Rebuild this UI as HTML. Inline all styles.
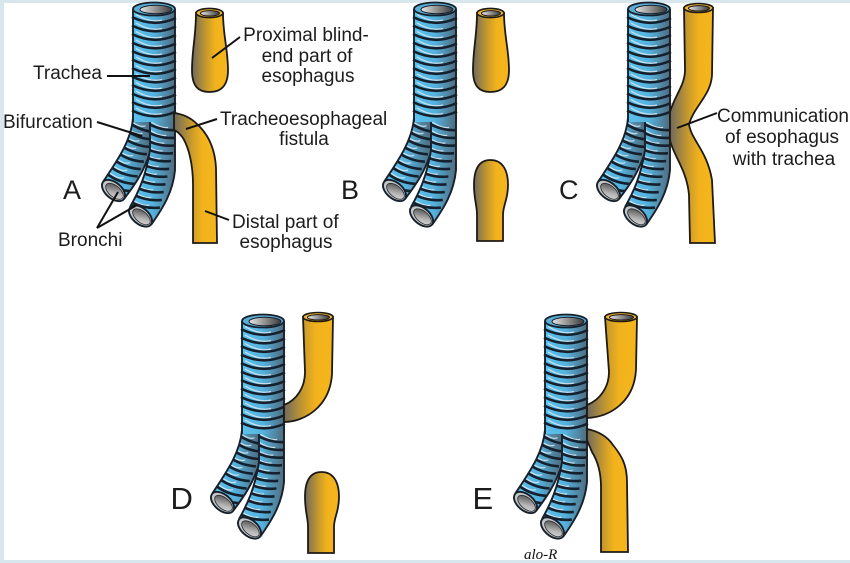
<!DOCTYPE html>
<html><head><meta charset="utf-8"><style>
html,body{margin:0;padding:0;background:#fff;}
svg{display:block;}
.t{font-family:"Liberation Sans",Arial,sans-serif;fill:#1c1c1c;}
</style></head><body>
<svg width="850" height="563" viewBox="0 0 850 563" xmlns="http://www.w3.org/2000/svg" xmlns:xlink="http://www.w3.org/1999/xlink">
<defs>
<linearGradient id="blue" x1="0" y1="0" x2="1" y2="0">
 <stop offset="0" stop-color="#5cc2ee"/>
 <stop offset="0.5" stop-color="#54b2de"/>
 <stop offset="1" stop-color="#4f6b7e"/>
</linearGradient>
<linearGradient id="gray" x1="0" y1="0" x2="1" y2="0">
 <stop offset="0" stop-color="#e6e6e6"/>
 <stop offset="1" stop-color="#3a3a3a"/>
</linearGradient>
<linearGradient id="gray2" x1="0" y1="0" x2="1" y2="1">
 <stop offset="0" stop-color="#3d3d3d"/>
 <stop offset="0.6" stop-color="#b5b5b5"/>
 <stop offset="1" stop-color="#e0e0e0"/>
</linearGradient>
<linearGradient id="gold" x1="0" y1="0" x2="1" y2="0">
 <stop offset="0" stop-color="#6f6a5e"/>
 <stop offset="0.4" stop-color="#c89a2c"/>
 <stop offset="0.65" stop-color="#f2b21c"/>
 <stop offset="1" stop-color="#f5b61c"/>
</linearGradient>
<clipPath id="cl"><path d="M133,106 L133,118 C131,142 116,162 103,182 L124,199 C134,186 144,172 150,152 L150,106 Z"/></clipPath>
<clipPath id="cr"><path d="M150,106 L150,150 C146,176 138,193 130,207 L151,225 C163,208 173,192 175,170 L175,106 Z"/></clipPath>

<g id="rl">
 <path d="M-13.5,-8 Q-1.3,3 5,0" stroke="#dde7ec" stroke-width="1.3" fill="none" opacity="0.85"/>
 <path d="M-15.7,-6.5 Q-2.3,5.5 15.7,6.5" stroke="#15202c" stroke-width="2.6" fill="none"/>
</g>
<g id="rr">
 <path d="M-14,-6 Q-1,3.3 6,1.5" stroke="#dde7ec" stroke-width="1.3" fill="none" opacity="0.85"/>
 <path d="M-16.5,-4 Q-1.4,5.8 16.5,4" stroke="#15202c" stroke-width="2.6" fill="none"/>
</g>
<g id="rt">
 <path d="M-18,-5.5 Q-4,3 8,0" stroke="#dde7ec" stroke-width="1.3" fill="none" opacity="0.85"/>
 <path d="M-22,-3 Q0,8 22,-2" stroke="#15202c" stroke-width="2.6" fill="none"/>
</g>

<g id="tr">
 <!-- left bronchus -->
 <path d="M133,106 L133,118 C131,142 116,162 103,182 L124,199 C134,186 144,172 150,152 L150,106 Z" fill="url(#blue)"/>
 <g clip-path="url(#cl)">
  <use href="#rl" x="140.5" y="125.7"/>
  <use href="#rl" x="137.4" y="133.1"/>
  <use href="#rl" x="134.3" y="140.5"/>
  <use href="#rl" x="131.2" y="147.8"/>
  <use href="#rl" x="128.2" y="155.2"/>
  <use href="#rl" x="125.1" y="162.6"/>
  <use href="#rl" x="122" y="170"/>
  <use href="#rl" x="119" y="177.4"/>
  <use href="#rl" x="115.9" y="184.8"/>
 </g>
 <path d="M133,118 C131,142 116,162 103,182 M124,199 C134,186 144,172 150,152" fill="none" stroke="#17202b" stroke-width="1.9"/>
 <ellipse cx="113.5" cy="190.5" rx="13.5" ry="8" transform="rotate(40 113.5 190.5)" fill="#c2c6c9" stroke="#17202b" stroke-width="1.9"/>
 <ellipse cx="114.5" cy="191.3" rx="10.5" ry="5.6" transform="rotate(40 114.5 191.3)" fill="url(#gray2)" stroke="#2a2a2a" stroke-width="0.8"/>
 <!-- right bronchus -->
 <path d="M150,106 L150,150 C146,176 138,193 130,207 L151,225 C163,208 173,192 175,170 L175,106 Z" fill="url(#blue)"/>
 <g clip-path="url(#cr)">
  <use href="#rr" x="162.1" y="125.9"/>
  <use href="#rr" x="160.2" y="133.7"/>
  <use href="#rr" x="158.3" y="141.4"/>
  <use href="#rr" x="156.5" y="149.2"/>
  <use href="#rr" x="154.6" y="157"/>
  <use href="#rr" x="152.7" y="164.8"/>
  <use href="#rr" x="150.9" y="172.5"/>
  <use href="#rr" x="149" y="180.3"/>
  <use href="#rr" x="147.2" y="188.1"/>
  <use href="#rr" x="145.3" y="195.9"/>
  <use href="#rr" x="143.4" y="203.6"/>
 </g>
 <path d="M150,106 L150,150 C146,176 138,193 130,207 M151,225 C163,208 173,192 175,170 L175,106" fill="none" stroke="#17202b" stroke-width="1.9"/>
 <ellipse cx="140.5" cy="216" rx="13.5" ry="8" transform="rotate(40 140.5 216)" fill="#c2c6c9" stroke="#17202b" stroke-width="1.9"/>
 <ellipse cx="141.5" cy="216.8" rx="10.5" ry="5.6" transform="rotate(40 141.5 216.8)" fill="url(#gray2)" stroke="#2a2a2a" stroke-width="0.8"/>
 <!-- trachea tube -->
 <path d="M133,9 L133,122 L175,122 L175,9 Z" fill="url(#blue)"/>
 <use href="#rt" x="154" y="20"/>
 <use href="#rt" x="154" y="28.5"/>
 <use href="#rt" x="154" y="37"/>
 <use href="#rt" x="154" y="45.5"/>
 <use href="#rt" x="154" y="54"/>
 <use href="#rt" x="154" y="62.5"/>
 <use href="#rt" x="154" y="71"/>
 <use href="#rt" x="154" y="79.5"/>
 <use href="#rt" x="154" y="88"/>
 <use href="#rt" x="154" y="96.5"/>
 <use href="#rt" x="154" y="105"/>
 <use href="#rt" x="154" y="113.5"/>
 <path d="M133,9 L133,122 M175,9 L175,122" fill="none" stroke="#17202b" stroke-width="1.9"/>
 <ellipse cx="154" cy="9" rx="21" ry="6.5" fill="#5aaed6" stroke="#17202b" stroke-width="1.8"/>
 <ellipse cx="156" cy="9.5" rx="16" ry="4.3" fill="url(#gray)" stroke="#17202b" stroke-width="1"/>
</g>

<g id="pu">
 <path d="M196,13 C196,35 192,50 192,70 C192,86 198,92 209.5,92 C221,92 228,86 228,70 C228,50 223,35 223,13 Z" fill="url(#gold)" stroke="#1e1a14" stroke-width="1.8"/>
 <ellipse cx="209.5" cy="13" rx="13.5" ry="4.6" fill="#e9b43a" stroke="#1e1a14" stroke-width="1.6"/>
 <ellipse cx="210" cy="13.3" rx="9.5" ry="2.7" fill="url(#gray)" stroke="#1e1a14" stroke-width="1"/>
</g>
<path id="pl" d="M193,185 C193,168 199,160 209.5,160 C220,160 227,168 227,185 C227,200 222,205 222,215 L222,241 L196,241 L196,215 C196,205 193,200 193,185 Z" fill="url(#gold)" stroke="#1e1a14" stroke-width="1.8"/>
<path id="fist" d="M174,113 C182,114 190,117 197,124 C208,134 215,148 216,168 L217,243 L193,243 L193,185 C193,165 189,148 183,138 C180,134 177,131 174,130 Z" fill="url(#gold)" stroke="#1e1a14" stroke-width="1.8"/>
</defs>

<!-- frame -->
<rect x="0" y="0" width="850" height="3" fill="#d8e6ee"/>
<rect x="0" y="0" width="4" height="563" fill="#d8e6ee"/>
<rect x="0" y="560" width="850" height="3" fill="#d8e6ee"/>

<!-- Panel A -->
<use href="#tr"/>
<use href="#pu"/>
<use href="#fist"/>

<!-- Panel B -->
<g transform="translate(281,0)">
 <use href="#tr"/>
 <use href="#pu"/>
 <use href="#pl"/>
</g>

<!-- Panel C -->
<g transform="translate(495,0)">
 <use href="#tr"/>
 <path d="M189,8 L218,8 L217,75 C216,95 200,105 194,124 C196,140 212,150 217,180 L220,243 L195,243 L194,195 C192,170 178,155 175,140 L175,112 C180,95 190,85 190,70 Z" fill="url(#gold)" stroke="#1e1a14" stroke-width="1.8"/>
 <ellipse cx="203.5" cy="8" rx="14.5" ry="4.5" fill="#e9b43a" stroke="#1e1a14" stroke-width="1.6"/>
 <ellipse cx="204" cy="8.3" rx="10.5" ry="2.7" fill="url(#gray)" stroke="#1e1a14" stroke-width="1"/>
</g>

<!-- Panel D -->
<g transform="translate(109,312)">
 <use href="#tr"/>
 <path d="M194,5 L224,5 L223,62 C221,95 195,110 175,110 L175,93 C188,88 196,75 196,60 Z" fill="url(#gold)" stroke="#1e1a14" stroke-width="1.8"/>
 <ellipse cx="209" cy="5" rx="15" ry="4.5" fill="#e9b43a" stroke="#1e1a14" stroke-width="1.6"/>
 <ellipse cx="209.5" cy="5.3" rx="11" ry="2.7" fill="url(#gray)" stroke="#1e1a14" stroke-width="1"/>
 <use href="#pl" x="3"/>
</g>

<!-- Panel E -->
<g transform="translate(412,312)">
 <use href="#tr"/>
 <path d="M193,5 L225,5 L224,58 C222,90 198,105 175,106 L175,93 C188,88 197,75 197,60 Z" fill="url(#gold)" stroke="#1e1a14" stroke-width="1.8"/>
 <ellipse cx="209" cy="5" rx="16" ry="4.5" fill="#e9b43a" stroke="#1e1a14" stroke-width="1.6"/>
 <ellipse cx="209.5" cy="5.3" rx="12" ry="2.7" fill="url(#gray)" stroke="#1e1a14" stroke-width="1"/>
 <path d="M175,117 C185,119 195,124 201,133 C209,143 215,152 215,170 L216,240 L189,240 L189,175 C189,160 185,148 180,140 C178,135 176,131 175,128 Z" fill="url(#gold)" stroke="#1e1a14" stroke-width="1.8"/>
</g>

<!-- leader lines -->
<g stroke="#111" stroke-width="2" fill="none">
 <line x1="212" y1="58" x2="240" y2="37"/>
 <line x1="107" y1="76" x2="150" y2="76"/>
 <line x1="97" y1="122" x2="142" y2="136"/>
 <line x1="186" y1="129" x2="217" y2="119"/>
 <line x1="205" y1="211" x2="229" y2="220"/>
 <line x1="97" y1="228" x2="118" y2="192"/>
 <line x1="97" y1="228" x2="137" y2="205"/>
 <line x1="677" y1="128" x2="717" y2="113"/>
</g>

<!-- labels -->
<g class="t" font-size="19">
 <text class="t" x="306" y="41" text-anchor="middle">Proximal blind-</text>
 <text class="t" x="307" y="62" text-anchor="middle">end part of</text>
 <text class="t" x="308" y="82" text-anchor="middle">esophagus</text>
 <text class="t" x="33" y="79">Trachea</text>
 <text class="t" x="3" y="128">Bifurcation</text>
 <text class="t" x="220" y="125">Tracheoesophageal</text>
 <text class="t" x="304" y="145" text-anchor="middle">fistula</text>
 <text class="t" x="232" y="228">Distal part of</text>
 <text class="t" x="286" y="248" text-anchor="middle">esophagus</text>
 <text class="t" x="58" y="246">Bronchi</text>
 <text class="t" x="717" y="122">Communication</text>
 <text class="t" x="782" y="143" text-anchor="middle">of esophagus</text>
 <text class="t" x="784" y="165" text-anchor="middle">with trachea</text>
</g>
<g font-size="27">
 <text class="t" x="63" y="199">A</text>
 <text class="t" x="341" y="199">B</text>
 <text class="t" x="559" y="199">C</text>
</g>
<g font-size="31">
 <text class="t" x="170.5" y="509">D</text>
 <text class="t" x="472.5" y="509">E</text>
</g>
<text x="524" y="559" font-size="15" style="font-family:'Liberation Serif',serif;font-style:italic;fill:#111">alo-R</text>
</svg>
</body></html>
